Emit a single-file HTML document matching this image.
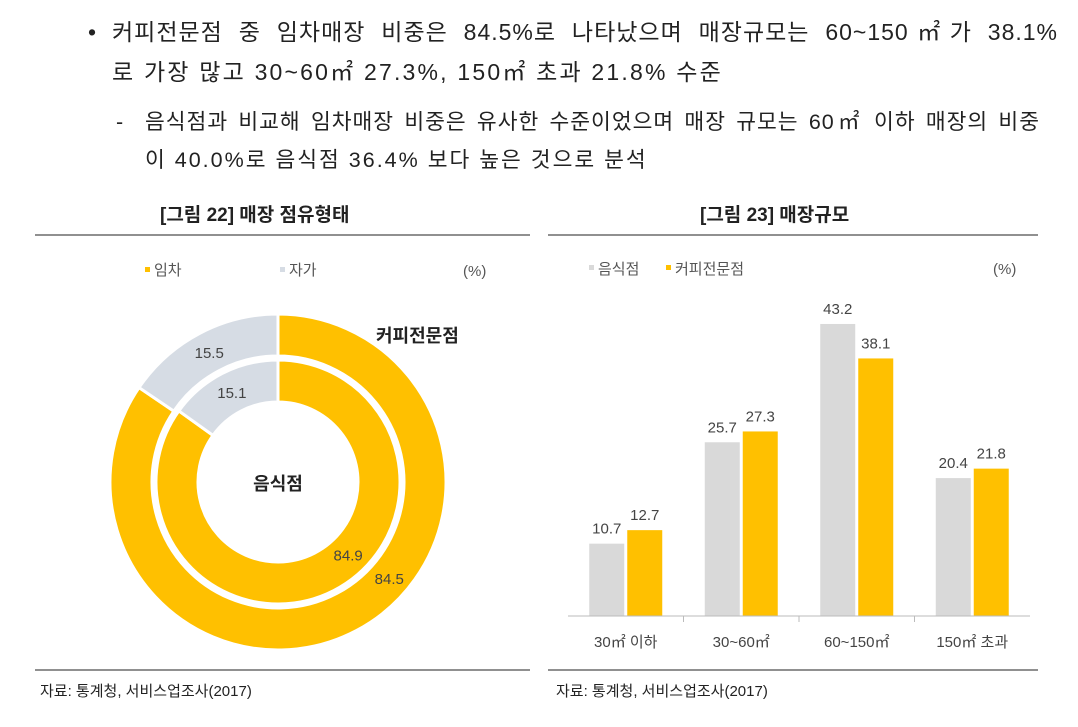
<!DOCTYPE html>
<html><head><meta charset="utf-8"><style>
body{margin:0;width:1078px;height:727px;background:#fff;font-family:"Liberation Sans","Noto Sans CJK KR",sans-serif;color:#222;position:relative;overflow:hidden}
.a{position:absolute;white-space:nowrap}
.j{position:absolute;white-space:nowrap;text-align:justify;text-align-last:justify}
</style></head><body>
<div class="a" style="left:88px;top:12px;font-size:23px;line-height:40px">•</div>
<div class="j" style="left:112px;top:12px;width:946px;font-size:23px;line-height:40px;letter-spacing:1px">커피전문점 중 임차매장 비중은 84.5%로 나타났으며 매장규모는 60~150㎡가 38.1%</div>
<div class="a" style="left:112px;top:52px;font-size:23px;line-height:40px;letter-spacing:2.2px">로 가장 많고 30~60㎡ 27.3%, 150㎡ 초과 21.8% 수준</div>
<div class="a" style="left:116px;top:103px;font-size:21.5px;line-height:38px">-</div>
<div class="j" style="left:145px;top:103px;width:895px;font-size:21.5px;line-height:38px;letter-spacing:1px">음식점과 비교해 임차매장 비중은 유사한 수준이었으며 매장 규모는 60㎡ 이하 매장의 비중</div>
<div class="a" style="left:145px;top:141px;font-size:21.5px;line-height:38px;letter-spacing:2px">이 40.0%로 음식점 36.4% 보다 높은 것으로 분석</div>
<div class="a" style="left:160px;top:200px;font-size:19px;font-weight:bold">[그림 22] 매장 점유형태</div>
<div class="a" style="left:700px;top:200px;font-size:19px;font-weight:bold">[그림 23] 매장규모</div>
<svg class="a" style="left:0;top:0" width="1078" height="727">
<line x1="35" y1="235" x2="530" y2="235" stroke="#222"/>
<line x1="548" y1="235" x2="1038" y2="235" stroke="#222"/>
<line x1="35" y1="670" x2="530" y2="670" stroke="#222"/>
<line x1="548" y1="670" x2="1038" y2="670" stroke="#222"/>
<g font-size="15" fill="#555">
<rect x="145" y="267" width="5" height="5" fill="#FFC000"/><text x="154" y="275">임차</text>
<rect x="280" y="267" width="5" height="5" fill="#D6DCE4"/><text x="289" y="275">자가</text>
<text x="463" y="276">(%)</text>
<rect x="589" y="265" width="5" height="5" fill="#D9D9D9"/><text x="598" y="274">음식점</text>
<rect x="666" y="265" width="5" height="5" fill="#FFC000"/><text x="675" y="274">커피전문점</text>
<text x="993" y="274">(%)</text>
</g>
<g id="donut"></g>
<text x="376" y="342" font-size="18" font-weight="bold" fill="#222">커피전문점</text>
<text x="278" y="490" font-size="18" font-weight="bold" fill="#222" text-anchor="middle">음식점</text>
<g id="bars"></g>
<line x1="568" y1="616" x2="1030" y2="616" stroke="#bbb"/>
<g font-size="15" fill="#222"><text x="40" y="696">자료: 통계청, 서비스업조사(2017)</text>
<text x="556" y="696">자료: 통계청, 서비스업조사(2017)</text></g>
</svg>
<script>
const ringNames=['커피전문점','음식점'];
const rentVals=[84.5,84.9];
const ownVals=[15.5,15.1];
const categories=['30㎡ 이하','30~60㎡','60~150㎡','150㎡ 초과'];
const restaurantVals=[10.7,25.7,43.2,20.4];
const coffeeVals=[12.7,27.3,38.1,21.8];
const NS='http://www.w3.org/2000/svg';
function mk(t,a,p){const e=document.createElementNS(NS,t);for(const k in a)e.setAttribute(k,a[k]);p.appendChild(e);return e;}
const cx=278,cy=482;
const radii=[[126,168],[80,122]];
function arc(r0,r1,a0,a1){const p=(r,a)=>[cx+r*Math.sin(a),cy-r*Math.cos(a)];const L=a1-a0>Math.PI?1:0;
const [x0,y0]=p(r1,a0),[x1,y1]=p(r1,a1),[x2,y2]=p(r0,a1),[x3,y3]=p(r0,a0);
return `M${x0},${y0}A${r1},${r1} 0 ${L} 1 ${x1},${y1}L${x2},${y2}A${r0},${r0} 0 ${L} 0 ${x3},${y3}Z`;}
const dg=document.getElementById('donut');
ringNames.forEach((n,i)=>{const [r0,r1]=radii[i];const tot=rentVals[i]+ownVals[i];const a=rentVals[i]/tot*2*Math.PI;
const s1=mk('path',{d:arc(r0,r1,0,a),fill:'#FFC000',stroke:'#fff','stroke-width':3},dg);


const s2=mk('path',{d:arc(r0,r1,a,2*Math.PI-0.0001),fill:'#D6DCE4',stroke:'#fff','stroke-width':3},dg);


const rm=(r0+r1)/2;
const ao=(a+2*Math.PI)/2;
const t1=mk('text',{x:cx+rm*Math.sin(a*0.43+(i?0.08:0)),y:cy-rm*Math.cos(a*0.43+(i?0.08:0))+6,'font-size':15,fill:'#444','text-anchor':'middle'},dg);t1.textContent=rentVals[i].toFixed(1);


const t2=mk('text',{x:cx+rm*Math.sin(ao),y:cy-rm*Math.cos(ao)+6,'font-size':15,fill:'#444','text-anchor':'middle'},dg);t2.textContent=ownVals[i].toFixed(1);


});
const base=616,sc=6.76,x0=568,gw=115.5,bw=35;
const bg=document.getElementById('bars');
categories.forEach((c,i)=>{const gx=x0+gw*(i+0.5);
[[restaurantVals,'#D9D9D9',-bw-1.5,'restaurant'],[coffeeVals,'#FFC000',1.5,'coffee']].forEach(([arr,col,off,nm])=>{
const h=arr[i]*sc;const r=mk('rect',{x:gx+off,y:base-h,width:bw,height:h,fill:col},bg);


const t=mk('text',{x:gx+off+bw/2,y:base-h-10,'font-size':15,fill:'#444','text-anchor':'middle'},bg);t.textContent=arr[i].toFixed(1);

});
const l=mk('text',{x:gx,y:647,'font-size':15,fill:'#444','text-anchor':'middle'},bg);l.textContent=c;


if(i>0){const tk=mk('line',{x1:x0+gw*i,y1:base,x2:x0+gw*i,y2:base+6,stroke:'#bbb'},bg);

}
});
</script>
</body></html>
